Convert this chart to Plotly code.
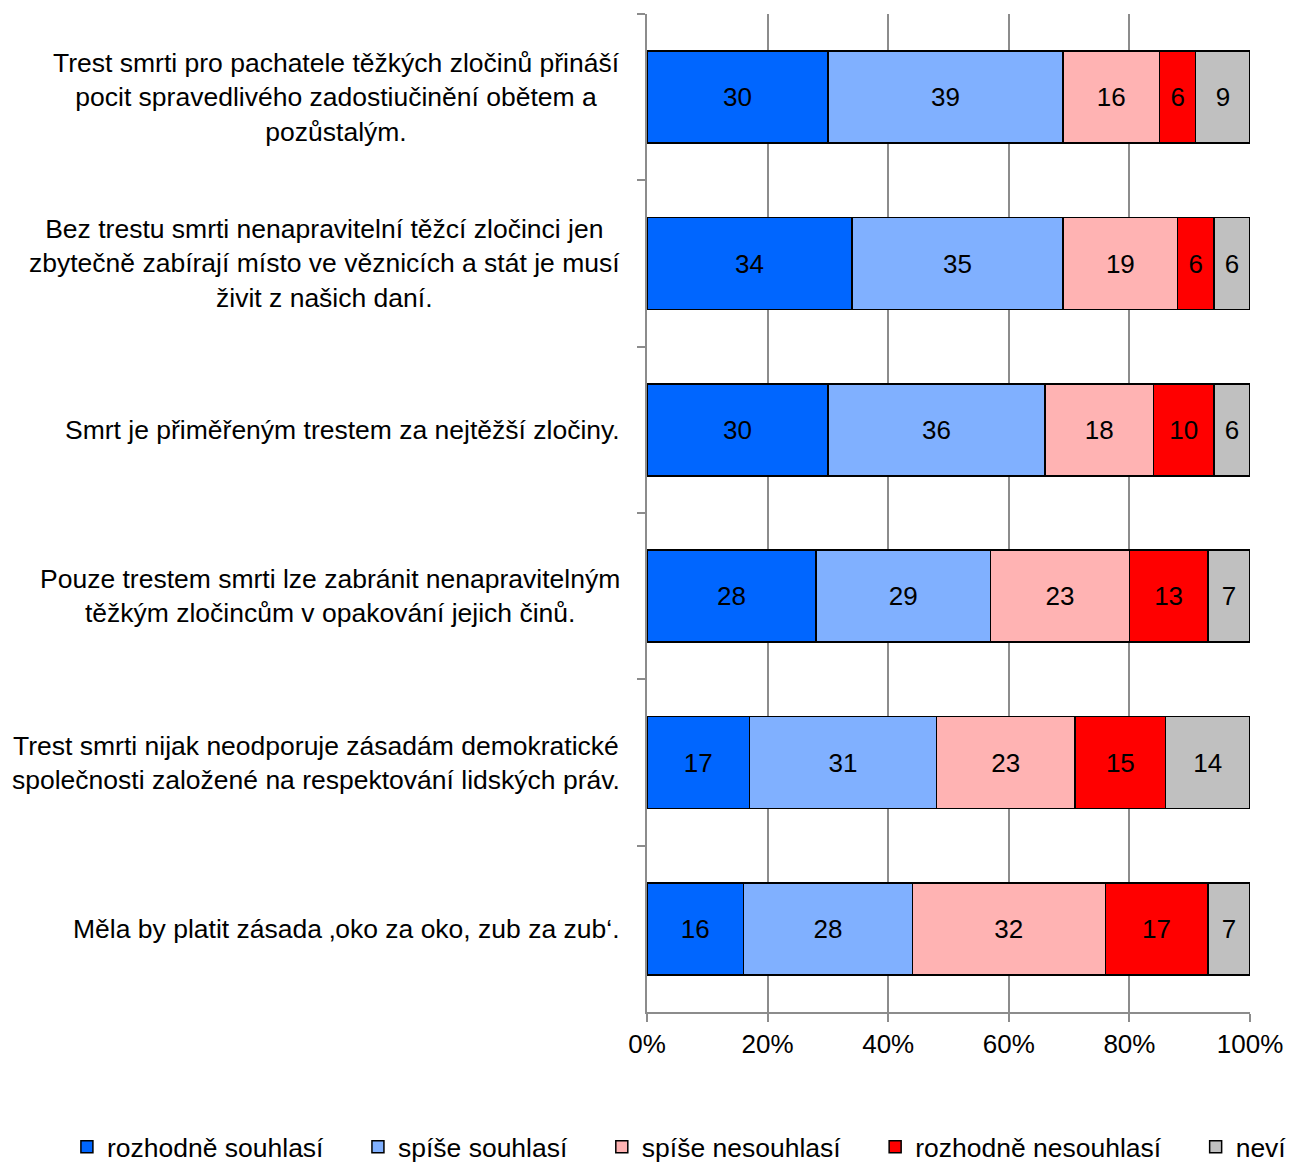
import plotly.graph_objects as go

categories = [
    "Trest smrti pro pachatele těžkých zločinů přináší<br>pocit spravedlivého zadostiučinění obětem a<br>pozůstalým.",
    "Bez trestu smrti nenapravitelní těžcí zločinci jen<br>zbytečně zabírají místo ve věznicích a stát je musí<br>živit z našich daní.",
    "Smrt je přiměřeným trestem za nejtěžší zločiny.",
    "Pouze trestem smrti lze zabránit nenapravitelným<br>těžkým zločincům v opakování jejich činů.",
    "Trest smrti nijak neodporuje zásadám demokratické<br>společnosti založené na respektování lidských práv.",
    "Měla by platit zásada ‚oko za oko, zub za zub‘.",
]
series_names = ["rozhodně souhlasí", "spíše souhlasí", "spíše nesouhlasí", "rozhodně nesouhlasí", "neví"]
rozhodne_souhlasi = [30, 34, 30, 28, 17, 16]
spise_souhlasi = [39, 35, 36, 29, 31, 28]
spise_nesouhlasi = [16, 19, 18, 23, 23, 32]
rozhodne_nesouhlasi = [6, 6, 10, 13, 15, 17]
nevi = [9, 6, 6, 7, 14, 7]
tick_vals = [0, 20, 40, 60, 80, 100]
tick_text = ["0%", "20%", "40%", "60%", "80%", "100%"]

series_values = [rozhodne_souhlasi, spise_souhlasi, spise_nesouhlasi, rozhodne_nesouhlasi, nevi]
colors = ["#0066FF", "#80B0FF", "#FFB3B3", "#FF0000", "#C0C0C0"]

FONT = "Liberation Sans, Arial, sans-serif"
PAD = "\u00a0" * 4
fig = go.Figure()
for i, (name, vals, col) in enumerate(zip(series_names, series_values, colors)):
    fig.add_trace(go.Bar(
        y=categories, x=vals, name=name + (PAD if i < len(series_names) - 1 else ""),
        orientation="h",
        marker=dict(color=col, line=dict(color="black", width=1.5)),
        text=[str(v) for v in vals], textposition="inside",
        insidetextanchor="middle", constraintext="none",
        textfont=dict(color="black", size=26, family=FONT),
        hoverinfo="skip",
    ))

for c in categories:
    fig.add_annotation(
        x=0, xref="paper", xshift=-25, xanchor="right",
        y=c, yref="y", yanchor="middle", align="center",
        text=c, showarrow=False,
        font=dict(size=26.5, color="black", family=FONT),
    )

fig.update_layout(
    barmode="stack", bargap=0.447,
    width=1287, height=1156,
    margin=dict(l=639, r=45, t=6, b=152, autoexpand=False),
    plot_bgcolor="white", paper_bgcolor="white",
    font=dict(family=FONT, size=26, color="black"),
    showlegend=True,
    legend=dict(
        orientation="h", xref="paper", yref="paper",
        x=-0.962, y=-0.1112, xanchor="left", yanchor="top",
        font=dict(size=26.5, color="black", family=FONT),
        itemwidth=30, traceorder="normal",
    ),
    xaxis=dict(
        range=[0, 100], tickvals=tick_vals, ticktext=tick_text,
        showgrid=True, gridcolor="#8C8C8C", gridwidth=2,
        showline=True, linecolor="#8C8C8C", linewidth=2,
        ticks="outside", ticklen=8, tickcolor="#8C8C8C", tickwidth=2,
        zeroline=False, tickfont=dict(size=26, color="black"),
        fixedrange=True,
    ),
    yaxis=dict(
        autorange="reversed", showticklabels=False,
        tickson="boundaries", ticks="outside", ticklen=8,
        tickcolor="#8C8C8C", tickwidth=2,
        showline=True, linecolor="#8C8C8C", linewidth=2,
        showgrid=False, zeroline=False,
    ),
)

fig.write_html("out.html")
